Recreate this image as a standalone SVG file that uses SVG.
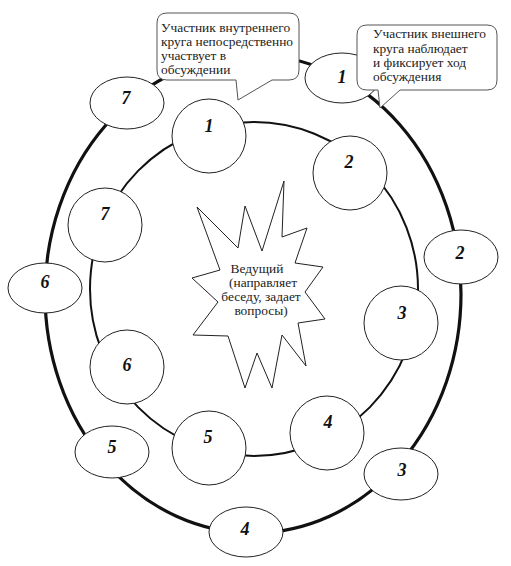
<svg xmlns="http://www.w3.org/2000/svg" width="511" height="566" viewBox="0 0 511 566">
<style>
.ring{fill:none;stroke:#111}
.node{fill:#fff;stroke:#222;stroke-width:1}
.num{font-family:'Liberation Serif','DejaVu Serif','Times New Roman',serif;font-weight:bold;font-style:italic;font-size:18px;text-anchor:middle;fill:#111}
.txt{font-family:'Liberation Serif','DejaVu Serif','Times New Roman',serif;font-size:13.4px;fill:#222}
.call{fill:#fff;stroke:#555;stroke-width:1}
</style>
<rect width="511" height="566" fill="#fff"/>
<g id="connectors">
<ellipse class="ring" cx="253" cy="294" rx="208" ry="239" stroke-width="3.2"/>
<ellipse class="ring" cx="254" cy="289" rx="164" ry="167" stroke-width="2"/>
</g>
<g id="inner1"><circle class="node" cx="209" cy="136" r="37"/><text class="num" x="209" y="132">1</text></g>
<g id="inner2"><circle class="node" cx="350" cy="173" r="37"/><text class="num" x="349" y="168">2</text></g>
<g id="inner3"><circle class="node" cx="401" cy="323" r="37"/><text class="num" x="402" y="319">3</text></g>
<g id="inner4"><circle class="node" cx="327" cy="433" r="37"/><text class="num" x="328" y="428">4</text></g>
<g id="inner5"><circle class="node" cx="209" cy="448" r="37"/><text class="num" x="208" y="443">5</text></g>
<g id="inner6"><circle class="node" cx="127" cy="367" r="37"/><text class="num" x="127" y="371">6</text></g>
<g id="inner7"><circle class="node" cx="105" cy="225" r="37"/><text class="num" x="105" y="220">7</text></g>
<g id="outer1"><ellipse class="node" cx="342" cy="78" rx="37" ry="25"/><text class="num" x="342" y="83">1</text></g>
<g id="outer2"><ellipse class="node" cx="461" cy="257" rx="37" ry="27"/><text class="num" x="460" y="259">2</text></g>
<g id="outer3"><ellipse class="node" cx="401" cy="474" rx="37" ry="26"/><text class="num" x="402" y="476">3</text></g>
<g id="outer4"><ellipse class="node" cx="246" cy="532" rx="37" ry="25"/><text class="num" x="245" y="535">4</text></g>
<g id="outer5"><ellipse class="node" cx="112" cy="452" rx="37" ry="26"/><text class="num" x="112" y="453">5</text></g>
<g id="outer6"><ellipse class="node" cx="45" cy="288" rx="37" ry="25"/><text class="num" x="45" y="288">6</text></g>
<g id="outer7"><ellipse class="node" cx="127" cy="103" rx="37" ry="26"/><text class="num" x="126" y="104">7</text></g>
<g id="leader">
<polygon fill="#fff" stroke="#222" stroke-width="1" stroke-linejoin="miter" points="197,207 220,270 192,278 218,302 193,335 228,336 245,388 257,353 272,388 282,335 306,366 298,323 325,319 305,292 323,267 295,263 307,228 282,237 284,181 262,251 245,206 238,248"/>
<text class="txt" text-anchor="middle"><tspan x="257" y="273">Ведущий</tspan><tspan x="263" y="287">(направляет</tspan><tspan x="261" y="301">беседу, задает</tspan><tspan x="261" y="315">вопросы)</tspan></text>
</g>
<g id="callout-inner">
<path class="call" d="M167,13 H289 Q299,13 299,23 V70 Q299,80 289,80 H272 L238,100 L236,80 H167 Q157,80 157,70 V23 Q157,13 167,13 Z"/>
<text class="txt"><tspan x="161" y="32">Участник внутреннего</tspan><tspan x="161" y="46">круга непосредственно</tspan><tspan x="161" y="60">участвует в</tspan><tspan x="161" y="74">обсуждении</tspan></text>
</g>
<g id="callout-outer">
<path class="call" d="M367,25 H487 Q497,25 497,35 V80 Q497,90 487,90 H400 L380,108 L378,90 H367 Q357,90 357,80 V35 Q357,25 367,25 Z"/>
<text class="txt"><tspan x="373" y="38">Участник внешнего</tspan><tspan x="373" y="53">круга наблюдает</tspan><tspan x="373" y="67">и  фиксирует ход</tspan><tspan x="373" y="81">обсуждения</tspan></text>
</g>
</svg>
